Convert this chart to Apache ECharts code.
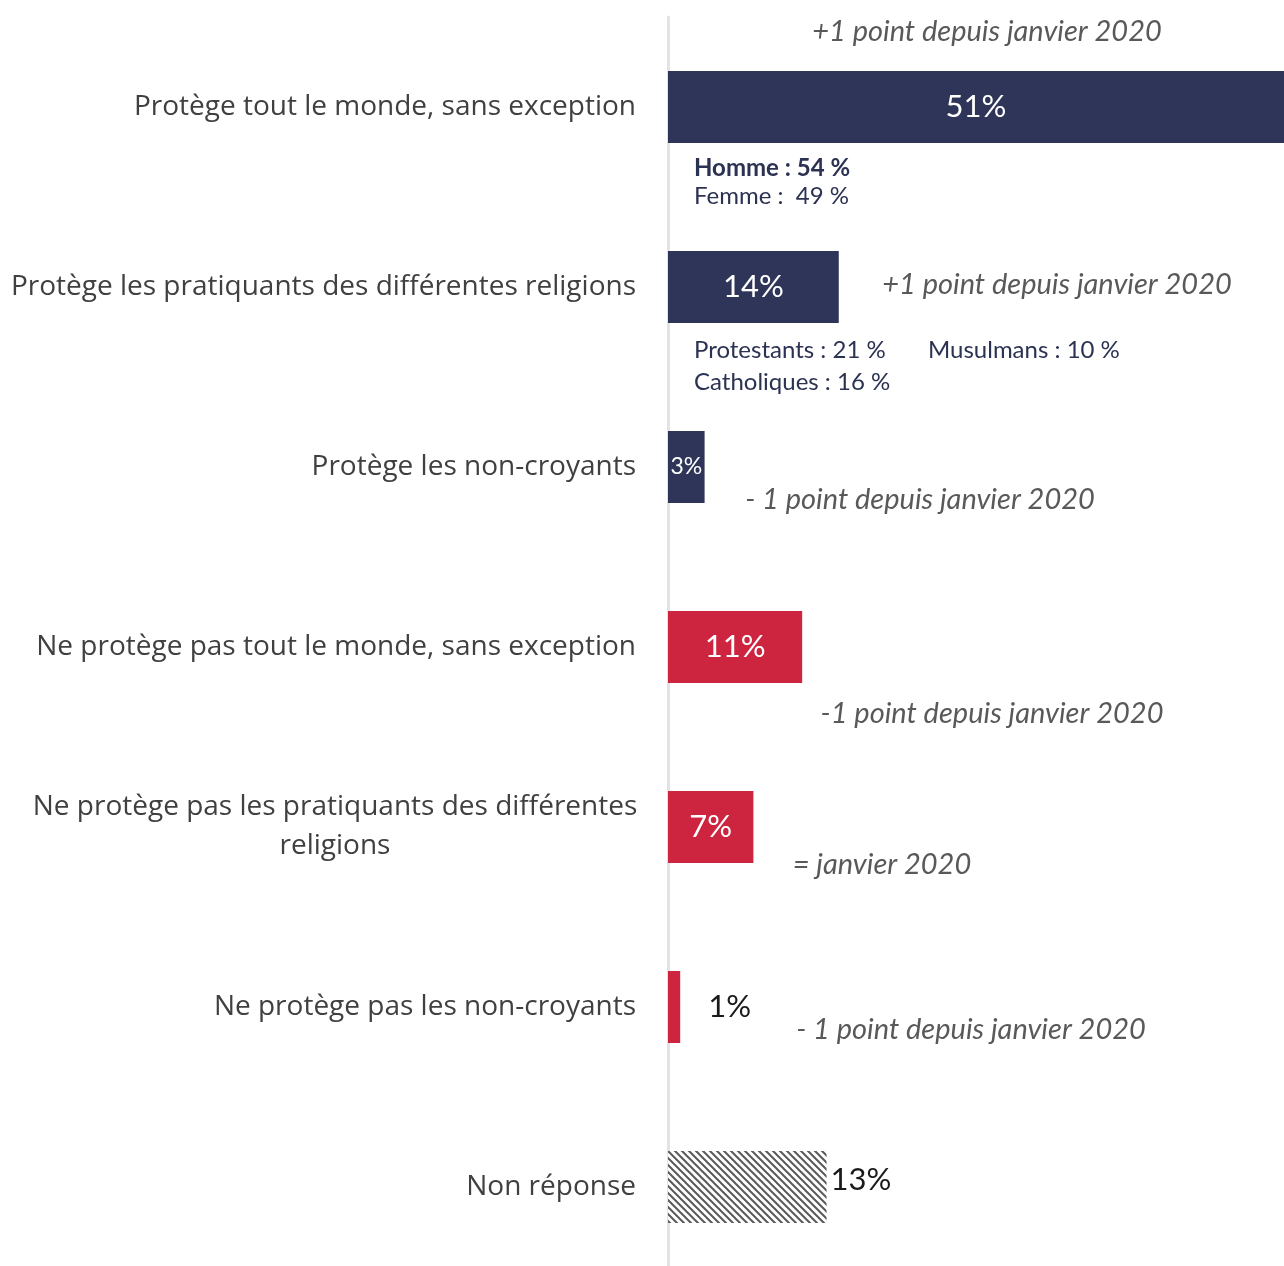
<!DOCTYPE html>
<html>
<head>
<meta charset="utf-8">
<script src="https://cdn.jsdelivr.net/npm/echarts@6/dist/echarts.min.js"></script>
<style>html,body{margin:0;padding:0;background:#fff}#c{width:1284px;height:1266px}</style>
</head>
<body>
<div id="c"></div>
<script>
const categories = [
  "Protège tout le monde, sans exception",
  "Protège les pratiquants des différentes religions",
  "Protège les non-croyants",
  "Ne protège pas tout le monde, sans exception",
  "Ne protège pas les pratiquants des différentes\nreligions",
  "Ne protège pas les non-croyants",
  "Non réponse"
];
const values = [51, 14, 3, 11, 7, 1, 13];
const groups = ["pos", "pos", "pos", "neg", "neg", "neg", "nr"];
const evolutions = [
  "+1 point depuis janvier 2020",
  "+1 point depuis janvier 2020",
  "- 1 point depuis janvier 2020",
  "-1 point depuis janvier 2020",
  "= janvier 2020",
  "- 1 point depuis janvier 2020"
];
const details = ["Homme : 54 %", "Femme :  49 %", "Protestants : 21 %", "Musulmans : 10 %", "Catholiques : 16 %"];

const NAVY = '#2e3558', RED = '#cd2540';

function hatch() {
  const c = document.createElement('canvas');
  c.width = 7; c.height = 7;
  const g = c.getContext('2d');
  g.fillStyle = '#ffffff'; g.fillRect(0, 0, 7, 7);
  g.strokeStyle = '#5a5a5a'; g.lineWidth = 2;
  g.beginPath();
  g.moveTo(-1, -1); g.lineTo(8, 8);
  g.moveTo(-8, -1); g.lineTo(1, 8);
  g.moveTo(6, -1); g.lineTo(15, 8);
  g.stroke();
  return c;
}
const hatchPattern = { image: hatch(), repeat: 'repeat' };

const barData = values.map((v, i) => {
  const grp = groups[i];
  const item = { value: v, itemStyle: { color: grp === 'pos' ? NAVY : grp === 'neg' ? RED : hatchPattern } };
  if (v <= 1 || grp === 'nr') {
    item.label = { position: 'right', color: '#1a1a1a', fontSize: 31, distance: grp === 'nr' ? 4 : 28, offset: grp === 'nr' ? [0, -7] : [0, 0] };
  } else if (v < 5) {
    item.label = { fontSize: 23 };
  }
  return item;
});

const catData = categories.map((c, i) => i === 4
  ? { value: c, textStyle: { align: 'center', padding: [0, 602, 0, 0], lineHeight: 39 } }
  : c);

const italic = { fontFamily: 'Lato', fontStyle: 'italic', fontSize: 29, fill: '#595959' };
const detailStyle = { fontFamily: 'Lato', fontSize: 24, fill: '#2b3252' };

const chart = echarts.init(document.getElementById('c'));
chart.setOption({
  backgroundColor: '#ffffff',
  animation: false,
  textStyle: { fontFamily: 'Lato' },
  grid: { left: 668, top: 17, width: 616, height: 1260, containLabel: false, outerBoundsMode: 'none' },
  xAxis: { type: 'value', min: 0, max: 50.5, show: false },
  yAxis: {
    type: 'category', inverse: true, data: catData,
    axisLine: { show: true, lineStyle: { color: '#e3e3e3', width: 3 } },
    axisTick: { show: false },
    axisLabel: { fontFamily: 'Open Sans', fontSize: 28, color: '#404040', margin: 32 }
  },
  series: [{
    type: 'bar', data: barData, barWidth: 72,
    label: { show: true, position: 'inside', formatter: '{c}%', color: '#ffffff', fontFamily: 'Lato', fontSize: 31 }
  }],
  graphic: [
    { type: 'text', x: 987, y: 32, style: Object.assign({ text: evolutions[0], align: 'center', verticalAlign: 'middle' }, italic) },
    { type: 'text', x: 1057, y: 285, style: Object.assign({ text: evolutions[1], align: 'center', verticalAlign: 'middle' }, italic) },
    { type: 'text', x: 920, y: 500, style: Object.assign({ text: evolutions[2], align: 'center', verticalAlign: 'middle' }, italic) },
    { type: 'text', x: 992, y: 714, style: Object.assign({ text: evolutions[3], align: 'center', verticalAlign: 'middle' }, italic) },
    { type: 'text', x: 882, y: 865, style: Object.assign({ text: evolutions[4], align: 'center', verticalAlign: 'middle' }, italic) },
    { type: 'text', x: 971, y: 1030, style: Object.assign({ text: evolutions[5], align: 'center', verticalAlign: 'middle' }, italic) },
    { type: 'text', x: 694, y: 168, style: Object.assign({}, detailStyle, { text: details[0], fontWeight: 'bold', verticalAlign: 'middle' }) },
    { type: 'text', x: 694, y: 196, style: Object.assign({}, detailStyle, { text: details[1], verticalAlign: 'middle' }) },
    { type: 'text', x: 694, y: 350, style: Object.assign({}, detailStyle, { text: details[2], verticalAlign: 'middle' }) },
    { type: 'text', x: 928, y: 350, style: Object.assign({}, detailStyle, { text: details[3], verticalAlign: 'middle' }) },
    { type: 'text', x: 694, y: 382, style: Object.assign({}, detailStyle, { text: details[4], verticalAlign: 'middle' }) }
  ]
});
</script>
</body>
</html>
